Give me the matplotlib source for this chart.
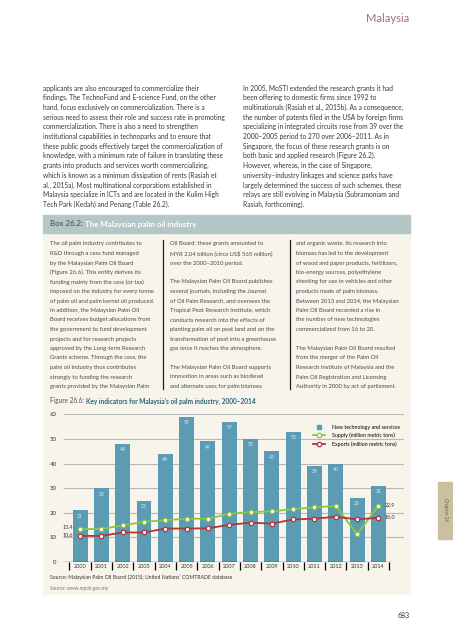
import matplotlib
matplotlib.use("Agg")
import matplotlib.pyplot as plt
from matplotlib.patches import Rectangle
from matplotlib.lines import Line2D

plt.rcParams['font.family'] = ['Lato', 'DejaVu Sans']

W, H = 453, 640

# chart data (Figure 26.6)
years = [str(y) for y in range(2000, 2015)]
new_tech = [21, 30, 48, 25, 44, 59, 49, 57, 50, 45, 53, 39, 40, 26, 31]
supply = [13.4, 13.4, 14.9, 16.3, 17.0, 17.6, 17.6, 19.6, 20.3, 20.6, 21.5, 22.2, 22.8, 11.2, 22.9]
exports = [10.6, 10.6, 12.0, 12.0, 13.6, 13.6, 13.7, 15.1, 16.0, 15.6, 17.3, 17.6, 18.4, 17.3, 18.0]
yticks = [0, 10, 20, 30, 40, 50, 60]

left_par = [
    "applicants are also encouraged to commercialize their",
    "findings. The TechnoFund and E-science Fund, on the other",
    "hand, focus exclusively on commercialization. There is a",
    "serious need to assess their role and success rate in promoting",
    "commercialization. There is also a need to strengthen",
    "institutional capabilities in technoparks and to ensure that",
    "these public goods effectively target the commercialization of",
    "knowledge, with a minimum rate of failure in translating these",
    "grants into products and services worth commercializing,",
    "which is known as a minimum dissipation of rents (Rasiah et",
    "al., 2015a). Most multinational corporations established in",
    "Malaysia specialize in ICTs and are located in the Kulim High",
    "Tech Park (Kedah) and Penang (Table 26.2).",
]
right_par = [
    "In 2005, MoSTI extended the research grants it had",
    "been offering to domestic firms since 1992 to",
    "multinationals (Rasiah et al., 2015b). As a consequence,",
    "the number of patents filed in the USA by foreign firms",
    "specializing in integrated circuits rose from 39 over the",
    "2000\u20132005 period to 270 over 2006\u20132011. As in",
    "Singapore, the focus of these research grants is on",
    "both basic and applied research (Figure 26.2).",
    "However, whereas, in the case of Singapore,",
    "university\u2013industry linkages and science parks have",
    "largely determined the success of such schemes, these",
    "relays are still evolving in Malaysia (Subramoniam and",
    "Rasiah, forthcoming).",
]
box_col1 = [
    "The oil palm industry contributes to",
    "R&D through a cess fund managed",
    "by the Malaysian Palm Oil Board",
    "(Figure 26.6). This entity derives its",
    "funding mainly from the cess (or tax)",
    "imposed on the industry for every tonne",
    "of palm oil and palm kernel oil produced.",
    "In addition, the Malaysian Palm Oil",
    "Board receives budget allocations from",
    "the government to fund development",
    "projects and for research projects",
    "approved by the Long-term Research",
    "Grants scheme. Through the cess, the",
    "palm oil industry thus contributes",
    "strongly to funding the research",
    "grants provided by the Malaysian Palm",
]
box_col2 = [
    "Oil Board; these grants amounted to",
    "MYR 2.04 billion (circa US$ 565 million)",
    "over the 2000\u20132010 period.",
    "",
    "The Malaysian Palm Oil Board publishes",
    "several journals, including the Journal",
    "of Oil Palm Research, and oversees the",
    "Tropical Peat Research Institute, which",
    "conducts research into the effects of",
    "planting palm oil on peat land and on the",
    "transformation of peat into a greenhouse",
    "gas once it reaches the atmosphere.",
    "",
    "The Malaysian Palm Oil Board supports",
    "innovation in areas such as biodiesel",
    "and alternate uses for palm biomass",
]
box_col3 = [
    "and organic waste. Its research into",
    "biomass has led to the development",
    "of wood and paper products, fertilizers,",
    "bio-energy sources, polyethylene",
    "sheeting for use in vehicles and other",
    "products made of palm biomass.",
    "Between 2013 and 2014, the Malaysian",
    "Palm Oil Board recorded a rise in",
    "the number of new technologies",
    "commercialized from 16 to 20.",
    "",
    "The Malaysian Palm Oil Board resulted",
    "from the merger of the Palm Oil",
    "Research Institute of Malaysia and the",
    "Palm Oil Registration and Licensing",
    "Authority in 2000 by act of parliament.",
]

BAR = '#5b9cb4'
GREEN = '#8cc63f'
RED = '#b2353b'


def fx(x):
    return x / W


def fy(y):
    return 1 - y / H


fig = plt.figure(figsize=(W / 100, H / 100), dpi=100)
renderer = fig.canvas.get_renderer()


def fit_size(line, target_px, weight='normal'):
    # font size that makes this line about target_px wide
    t = fig.text(0, 0, line, fontsize=10, fontweight=weight)
    w = t.get_window_extent(renderer=renderer).width
    t.remove()
    return 10 * target_px / w


def para(lines, x, y0, step, size, color, weight='normal'):
    for i, line in enumerate(lines):
        fig.text(fx(x), fy(y0 + i * step), line, fontsize=size, color=color,
                 va='center', ha='left', fontweight=weight)


def two_part(x, y, first, second, size, c1, c2):
    t = fig.text(fx(x), fy(y), first, fontsize=size, color=c1, va='center', ha='left')
    w = t.get_window_extent(renderer=renderer).width
    fig.text(fx(x + w), fy(y), second, fontsize=size, color=c2, va='center',
             ha='left', fontweight='bold')


# page header
fig.text(fx(409), fy(19), "Malaysia", fontsize=8, color='#a66d7d', ha='right', va='center')

# body text
body_size = fit_size(left_par[3], 182)
para(left_par, 43, 88, 9.7, body_size, '#383838')
para(right_par, 243, 88, 9.7, body_size, '#383838')

# box
fig.patches.append(Rectangle((fx(43), fy(594)), fx(410 - 43), (594 - 233) / H,
                             transform=fig.transFigure, color='#f7f4ec', zorder=-2))
fig.patches.append(Rectangle((fx(43), fy(233)), fx(410 - 43), 18 / H,
                             transform=fig.transFigure, color='#b4c6c6', zorder=-1))
two_part(50, 224, "Box 26.2: ", "The Malaysian palm oil industry", 5.7, '#4a4a4a', 'white')

box_size = fit_size(box_col1[6], 106)
para(box_col1, 50, 244, 9.5, box_size, '#4a4a4a')
para(box_col2, 170, 244, 9.5, box_size, '#4a4a4a')
para(box_col3, 296, 244, 9.5, box_size, '#4a4a4a')
for xl in (163, 290):
    fig.add_artist(Line2D([fx(xl), fx(xl)], [fy(240), fy(389)], color='#222222', lw=0.9))

two_part(50, 401, "Figure 26.6: ", "Key indicators for Malaysia\u2019s oil palm industry, 2000\u20132014",
         4.7, '#555555', '#2e6378')

# chart
ax = fig.add_axes([fx(63), fy(562), fx(404 - 63), (562 - 414.4) / H])
ax.set_facecolor('none')
x = list(range(len(years)))
ax.set_xlim(-0.8, 15.2)
ax.set_ylim(0, 60)
ax.hlines(yticks[1:], -0.8, 15.2, color='#b8b8b8', lw=0.8, zorder=0)
ax.bar(x, new_tech, width=0.7, color=BAR, zorder=1)
for i, v in enumerate(new_tech):
    ax.text(i, v - 2.4, str(v), ha='center', va='center', fontsize=3.6, color='#dbeef4', zorder=2)
ax.plot(x, supply, color=GREEN, lw=1.3, marker='o', ms=3.2, mfc='white', mec=GREEN, mew=0.9, zorder=3)
ax.plot(x, exports, color=RED, lw=1.3, marker='o', ms=3.2, mfc='white', mec=RED, mew=0.9, zorder=3)
ax.hlines(0, -0.8, 14.6, color='black', lw=0.9, zorder=4)
ax.vlines([i - 0.5 for i in range(16)], -3.2, 0, color='black', lw=0.9, clip_on=False)

ax.text(-0.35, supply[0] + 0.6, f"{supply[0]:.1f}", ha='right', va='center', fontsize=3.8, color='#333333')
ax.text(-0.35, exports[0] + 0.3, f"{exports[0]:.1f}", ha='right', va='center', fontsize=3.8, color='#333333')
ax.text(14.3, supply[-1], f"{supply[-1]:.1f}", ha='left', va='center', fontsize=3.8, color='#333333')
ax.text(14.3, exports[-1], f"{exports[-1]:.1f}", ha='left', va='center', fontsize=3.8, color='#333333')

for s in ax.spines.values():
    s.set_visible(False)
ax.set_yticks(yticks, [str(t) for t in yticks])
ax.set_xticks(x, years)
ax.tick_params(axis='y', length=0, pad=4.5, labelsize=4.3, labelcolor='#333333')
ax.tick_params(axis='x', length=0, pad=1.5, labelsize=4.0, labelcolor='#333333')

handles = [
    Line2D([], [], ls='none', marker='s', ms=2.6, color=BAR),
    Line2D([], [], color=GREEN, lw=1.3, marker='o', ms=3.2, mfc='white', mec=GREEN, mew=0.9),
    Line2D([], [], color=RED, lw=1.3, marker='o', ms=3.2, mfc='white', mec=RED, mew=0.9),
]
labels = ["New technology and services", "Supply (million metric tons)", "Exports (million metric tons)"]
ax.legend(handles, labels, loc='upper left', bbox_to_anchor=(fx(310), fy(422)),
          bbox_transform=fig.transFigure, frameon=False, fontsize=3.8,
          handlelength=2.4, labelspacing=0.6, handletextpad=1.2, borderpad=0)

fig.text(fx(50), fy(577), "Source: Malaysian Palm Oil Board (2015); United Nations\u2019 COMTRADE database",
         fontsize=3.7, color='#333333', va='center')
fig.text(fx(50), fy(588.5), "Source: www.mpob.gov.my", fontsize=3.7, color='#777777',
         va='center', style='italic')

# chapter tab and page number
fig.patches.append(Rectangle((fx(438), fy(539)), fx(15), 57 / H, transform=fig.transFigure,
                             color='#cbbf9f', zorder=-1))
fig.text(fx(445.5), fy(510), "Chapter 26", rotation=-90, fontsize=3.3, color='#6b6252',
         ha='center', va='center')
fig.text(fx(410), fy(616), "683", fontsize=5, color='#333333', ha='right', va='center')

fig.savefig("out.png", dpi=100)
